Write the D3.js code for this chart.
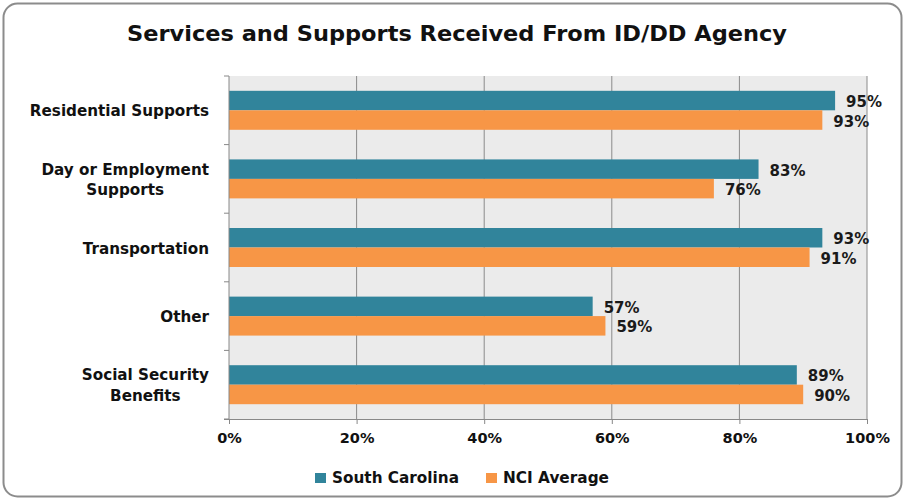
<!DOCTYPE html>
<html><head><meta charset="utf-8">
<script src="https://cdn.jsdelivr.net/npm/d3@7"></script>
<style>body{margin:0;background:#fff}</style>
</head><body>
<svg id="c" width="905" height="501"></svg>
<script>
const categories = ["Residential Supports", "Day or Employment Supports", "Transportation", "Other", "Social Security Benefits"];
const categoryLines = [["Residential Supports"], ["Day or Employment", "Supports"], ["Transportation"], ["Other"], ["Social Security", "Benefits"]];
const seriesNames = ["South Carolina", "NCI Average"];
const southCarolina = [95, 83, 93, 57, 89];
const nciAverage = [93, 76, 91, 59, 90];
const xTicks = [0, 20, 40, 60, 80, 100];
const colors = ["#31849B", "#F79646"];

const font = "DejaVu Sans, sans-serif";
const svg = d3.select("#c");
svg.append("rect").attr("x", 3.5).attr("y", 3.5).attr("width", 898).attr("height", 493)
  .attr("rx", 14).attr("fill", "#fff").attr("stroke", "#8c8c8c").attr("stroke-width", 2);

svg.append("text").attr("x", 127).attr("y", 41)
  .attr("font-family", font).attr("font-weight", 700).attr("font-size", 21.5)
  .attr("textLength", 660).attr("lengthAdjust", "spacingAndGlyphs")
  .attr("fill", "#111").text("Services and Supports Received From ID/DD Agency");

const L = 229, R = 867, T = 76, B = 419;
const x = d3.scaleLinear().domain([0, 100]).range([L, R]);
const y = d3.scaleBand().domain(categories).range([T, B]).paddingInner(0).paddingOuter(0);
const inner = d3.scaleBand().domain(seriesNames).range([0, y.bandwidth()]).paddingInner(0).paddingOuter(0.76);

svg.append("rect").attr("x", L).attr("y", T).attr("width", R - L).attr("height", B - T).attr("fill", "#ebebeb");

svg.append("g").selectAll("line").data(xTicks.slice(1)).join("line")
  .attr("x1", d => x(d)).attr("x2", d => x(d)).attr("y1", T).attr("y2", B)
  .attr("stroke", "#8a8a8a").attr("stroke-width", 1);

const data = [southCarolina, nciAverage];
categories.forEach((c, i) => {
  seriesNames.forEach((s, j) => {
    const v = data[j][i];
    const yy = y(c) + inner(s);
    svg.append("rect").attr("x", L).attr("y", yy).attr("width", x(v) - L).attr("height", inner.bandwidth())
      .attr("fill", colors[j]);
    svg.append("text").attr("x", x(v) + 11).attr("y", yy + inner.bandwidth() / 2 + 6.5)
      .attr("font-family", font).attr("font-weight", 700).attr("font-size", 15).attr("fill", "#1a1a1a")
      .text(v + "%");
  });
});

// Y axis
const yAxis = svg.append("g");
yAxis.append("line").attr("x1", L).attr("x2", L).attr("y1", T).attr("y2", B).attr("stroke", "#888");
const bounds = categories.map(c => y(c)).concat([B]);
yAxis.selectAll("line.t").data(bounds).join("line").attr("class", "t")
  .attr("x1", L - 5).attr("x2", L).attr("y1", d => d).attr("y2", d => d).attr("stroke", "#888");
categories.forEach((c, i) => {
  const lines = categoryLines[i];
  const cy = y(c) + y.bandwidth() / 2;
  const g = svg.append("g");
  const texts = lines.map((ln, k) => g.append("text")
      .attr("y", cy + 6 + (k - (lines.length - 1) / 2) * 20.5)
      .attr("text-anchor", "middle").attr("font-family", font).attr("font-weight", 700).attr("font-size", 15.2)
      .attr("fill", "#111").text(ln));
  const maxW = d3.max(texts, t => t.node().getComputedTextLength());
  texts.forEach(t => t.attr("x", 209 - maxW / 2));
});

// X axis
const xa = svg.append("g").attr("transform", `translate(0,${B})`)
  .call(d3.axisBottom(x).tickValues(xTicks).tickSize(5).tickFormat(d => d + "%"));
xa.select(".domain").attr("stroke", "#888").attr("d", `M${L - 5},0.5H${R}`);
xa.selectAll(".tick line").attr("stroke", "#888");
xa.selectAll(".tick text").attr("font-family", font).attr("font-weight", 700).attr("font-size", 14.5)
  .attr("fill", "#111").attr("y", 24).attr("dy", 0);

// Legend
const leg = svg.append("g");
const legX = [315, 486];
const legW = [127, 106];
seriesNames.forEach((s, j) => {
  leg.append("rect").attr("x", legX[j]).attr("y", 473).attr("width", 11).attr("height", 10).attr("fill", colors[j]);
  leg.append("text").attr("x", legX[j] + 17).attr("y", 483).attr("font-family", font)
    .attr("font-weight", 700).attr("font-size", 15).attr("textLength", legW[j]).attr("lengthAdjust", "spacingAndGlyphs")
    .attr("fill", "#111").text(s);
});
</script>
</body></html>
